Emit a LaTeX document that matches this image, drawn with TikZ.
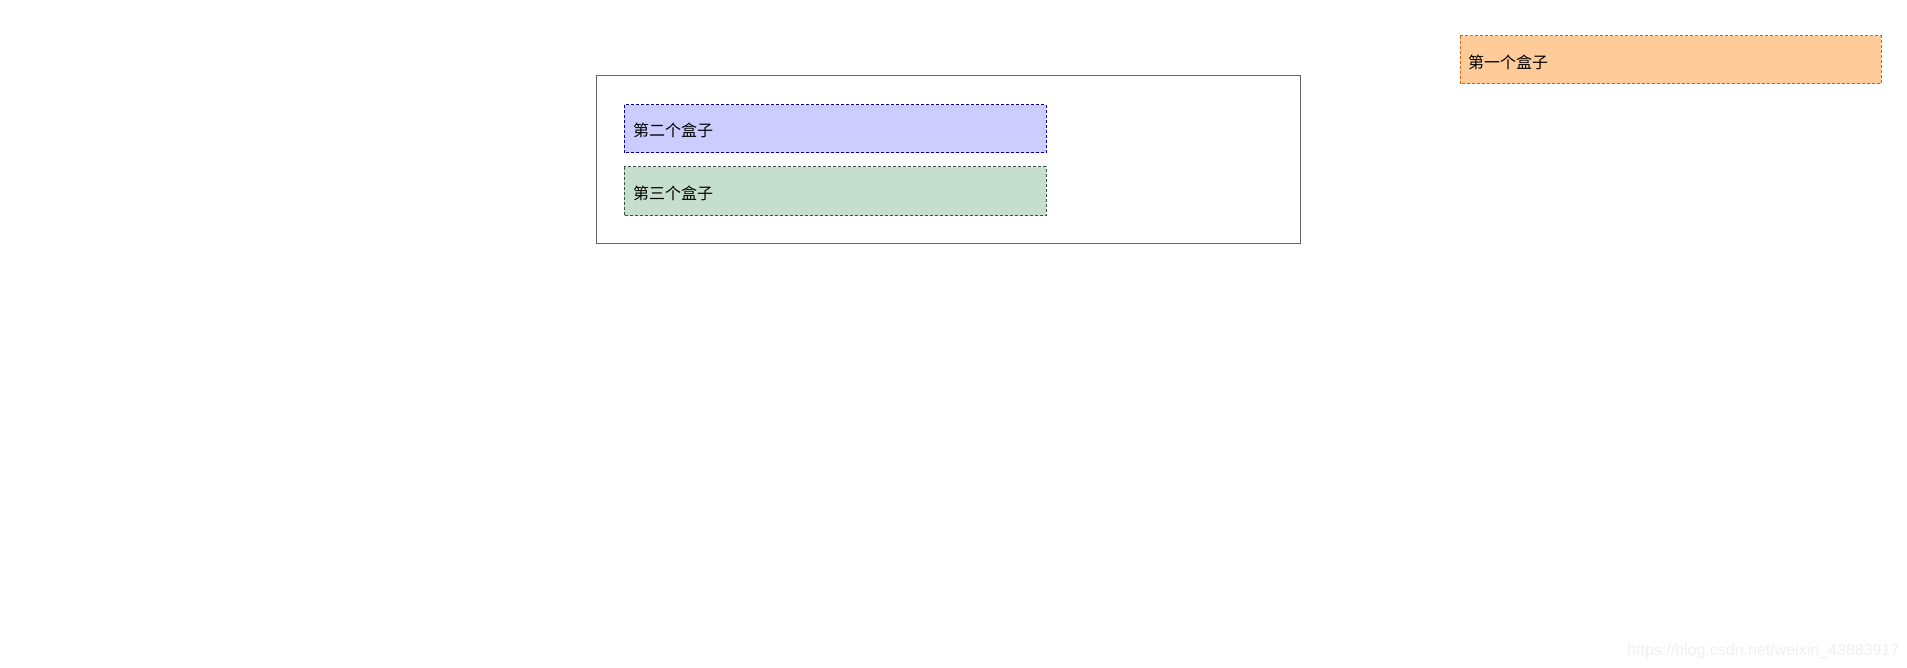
\documentclass[tikz,border=0pt]{standalone}
\usepackage{fontspec}
\newfontfamily\cjk{Noto Sans CJK SC}
\definecolor{bluefill}{HTML}{CCCCFF}
\definecolor{blueline}{HTML}{000088}
\definecolor{greenfill}{HTML}{C5DECE}
\definecolor{greenline}{HTML}{335544}
\definecolor{orangefill}{HTML}{FFCC99}
\definecolor{orangeline}{HTML}{CC6600}
\definecolor{outerline}{HTML}{666666}
\begin{document}
\begin{tikzpicture}[x=1pt,y=-1pt,
  boxstyle/.style={line width=1pt,dash pattern=on 3pt off 2pt},
  lbl/.style={anchor=west,inner sep=0pt,font=\cjk\fontsize{16}{18}\selectfont}]
\useasboundingbox (0,0) rectangle (1907,668);
\fill[white] (0,0) rectangle (1907,668);
% outer container
\draw[outerline,line width=1pt] (596,76) rectangle (1300,244);
% second box
\draw[boxstyle,fill=bluefill,draw=blueline] (624,105) rectangle (1046,153);
\node[lbl] (b2) at (633,130) {第二个盒子};
% third box
\draw[boxstyle,fill=greenfill,draw=greenline] (624,167) rectangle (1046,216);
\node[lbl] (b3) at (633,193) {第三个盒子};
% first box
\draw[boxstyle,fill=orangefill,draw=orangeline] (1460,36) rectangle (1881,84);
\node[lbl] (b1) at (1468,62) {第一个盒子};
% watermark
\node[anchor=west,inner sep=0pt,text=black!6,font=\fontspec{Liberation Sans}\fontsize{16}{18}\selectfont] (wm) at (1627,651) {https://blog.csdn.net/weixin\_43883917};
\end{tikzpicture}
\end{document}
